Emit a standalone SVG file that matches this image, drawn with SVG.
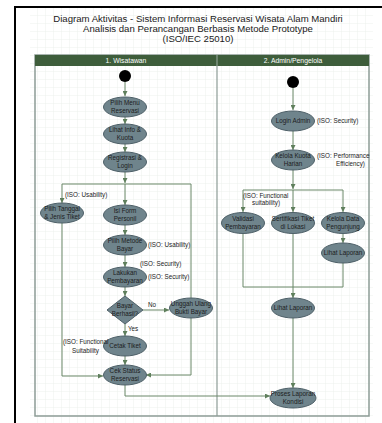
<svg xmlns="http://www.w3.org/2000/svg" width="382" height="423" viewBox="0 0 382 423">
<defs>
<pattern id="grid" width="8" height="8" patternUnits="userSpaceOnUse" x="30" y="8">
<path d="M8 0V8M0 8H8" fill="none" stroke="#e9ece9" stroke-width="0.8"/>
</pattern>
<marker id="ah" viewBox="0 0 6 6" refX="6" refY="3" markerWidth="5" markerHeight="5" orient="auto" markerUnits="userSpaceOnUse">
<path d="M0 0L6 3L0 6Z" fill="#5f7f5c"/>
</marker>
</defs>
<style>
.node{fill:#6f848c;stroke:#4e6068;stroke-width:1}
.nt{font-family:"Liberation Sans",Arial,sans-serif;font-size:6.3px;fill:#1c1c1c;text-anchor:middle}
.lb{font-family:"Liberation Sans",Arial,sans-serif;font-size:6.3px;fill:#1c1c1c}
.title{font-family:"Liberation Sans",Arial,sans-serif;font-size:9.6px;fill:#1a1a1a;text-anchor:middle}
.hd{font-family:"Liberation Sans",Arial,sans-serif;font-size:6.8px;fill:#ffffff;text-anchor:middle}
.c{fill:none;stroke:#6a8868;stroke-width:1}
.ca{fill:none;stroke:#6a8868;stroke-width:1;marker-end:url(#ah)}
</style>
<rect width="382" height="423" fill="#ffffff"/>
<rect x="30" y="8" width="343" height="415" fill="url(#grid)"/>
<line x1="15" y1="7" x2="15" y2="423" stroke="#000" stroke-width="2"/>
<line x1="14" y1="7" x2="382" y2="7" stroke="#000" stroke-width="2"/>

<g id="title">
<text class="title" x="198" y="22">Diagram Aktivitas - Sistem Informasi Reservasi Wisata Alam Mandiri</text>
<text class="title" x="198" y="32">Analisis dan Perancangan Berbasis Metode Prototype</text>
<text class="title" x="198" y="42">(ISO/IEC 25010)</text>
</g>

<g id="lanes">
<rect x="35" y="55" width="334" height="361" fill="none" stroke="#8d9c96" stroke-width="1.5"/>
<rect x="35" y="55" width="334" height="11" fill="#3e5d3b"/>
<line x1="217" y1="55" x2="217" y2="416" stroke="#8d9c96" stroke-width="1.2"/>
<line x1="217" y1="55" x2="217" y2="66" stroke="#6f8a6c" stroke-width="0.8"/>
<text class="hd" x="126" y="63">1. Wisatawan</text>
<text class="hd" x="293" y="63">2. Admin/Pengelola</text>
</g>

<g id="connectors">
<path class="ca" d="M125 82V96"/>
<path class="ca" d="M125 117V124"/>
<path class="ca" d="M125 144V152"/>
<path class="ca" d="M125 172V183"/>
<path class="c" d="M62 184H191"/>
<path class="ca" d="M62 184V203"/>
<path class="ca" d="M125 184V205"/>
<path class="ca" d="M191 184V375H146"/>
<path class="ca" d="M125 225V235"/>
<path class="ca" d="M125 255V267"/>
<path class="ca" d="M125 287V296"/>
<path class="ca" d="M143 310H169"/>
<path class="ca" d="M125 324V336"/>
<path class="ca" d="M125 356V365"/>
<path class="ca" d="M62 223V376H103"/>
<path class="ca" d="M125 385V396H270"/>
<path class="ca" d="M293 88V110"/>
<path class="ca" d="M293 131V150"/>
<path class="ca" d="M293 170V189"/>
<path class="c" d="M243 190H343"/>
<path class="ca" d="M243 190V212"/>
<path class="ca" d="M293 190V212"/>
<path class="ca" d="M343 190V212"/>
<path class="ca" d="M343 234V243"/>
<path class="c" d="M243 234V287H343V263"/>
<path class="c" d="M293 234V287"/>
<path class="ca" d="M293 287V298"/>
<path class="ca" d="M293 318V388"/>
</g>

<g id="start1"><circle cx="125" cy="76" r="6" fill="#000"/></g>
<g id="n_pilihmenu"><ellipse class="node" cx="125" cy="107" rx="21.5" ry="10"/><text class="nt" x="125" y="105">Pilih Menu</text><text class="nt" x="125" y="112.5">Reservasi</text></g>
<g id="n_lihatinfo"><ellipse class="node" cx="125" cy="134" rx="21.5" ry="10"/><text class="nt" x="125" y="132">Lihat Info &amp;</text><text class="nt" x="125" y="139.5">Kuota</text></g>
<g id="n_registrasi"><ellipse class="node" cx="125" cy="162" rx="21.5" ry="10"/><text class="nt" x="125" y="160">Registrasi &amp;</text><text class="nt" x="125" y="167.5">Login</text></g>
<g id="n_pilihtanggal"><ellipse class="node" cx="62" cy="213" rx="21.5" ry="10"/><text class="nt" x="62" y="211">Pilih Tanggal</text><text class="nt" x="62" y="218.5">&amp; Jenis Tiket</text></g>
<g id="n_isiform"><ellipse class="node" cx="125" cy="215" rx="21.5" ry="10"/><text class="nt" x="125" y="213">Isi Form</text><text class="nt" x="125" y="220.5">Personil</text></g>
<g id="n_pilihmetode"><ellipse class="node" cx="125" cy="245" rx="21.5" ry="10"/><text class="nt" x="125" y="243">Pilih Metode</text><text class="nt" x="125" y="250.5">Bayar</text></g>
<g id="n_lakukan"><ellipse class="node" cx="125" cy="277" rx="21.5" ry="10"/><text class="nt" x="125" y="275">Lakukan</text><text class="nt" x="125" y="282.5">Pembayaran</text></g>
<g id="n_bayar"><path class="node" d="M125 296L143 310L125 324L107 310Z"/><text class="nt" x="125" y="308">Bayar</text><text class="nt" x="125" y="315.5">Berhasil?</text></g>
<g id="n_unggah"><ellipse class="node" cx="191" cy="308" rx="21.5" ry="10"/><text class="nt" x="191" y="306">Unggah Ulang</text><text class="nt" x="191" y="313.5">Bukti Bayar</text></g>
<g id="n_cetak"><ellipse class="node" cx="125" cy="346" rx="21.5" ry="10"/><text class="nt" x="125" y="348.2">Cetak Tiket</text></g>
<g id="n_cekstatus"><ellipse class="node" cx="125" cy="375" rx="21.5" ry="10"/><text class="nt" x="125" y="373">Cek Status</text><text class="nt" x="125" y="380.5">Reservasi</text></g>

<g id="start2"><circle cx="293" cy="82" r="6" fill="#000"/></g>
<g id="n_login"><ellipse class="node" cx="293" cy="121" rx="21.5" ry="10"/><text class="nt" x="293" y="123.2">Login Admin</text></g>
<g id="n_kelolakuota"><ellipse class="node" cx="293" cy="160" rx="21.5" ry="10"/><text class="nt" x="293" y="158">Kelola Kuota</text><text class="nt" x="293" y="165.5">Harian</text></g>
<g id="n_validasi"><ellipse class="node" cx="243" cy="223" rx="21.5" ry="10.5"/><text class="nt" x="243" y="221">Validasi</text><text class="nt" x="243" y="228.5">Pembayaran</text></g>
<g id="n_verifikasi"><ellipse class="node" cx="293" cy="223" rx="21.5" ry="10.5"/><text class="nt" x="293" y="221">Sertifikasi Tiket</text><text class="nt" x="293" y="228.5">di Lokasi</text></g>
<g id="n_keloladata"><ellipse class="node" cx="343" cy="223" rx="21.5" ry="10.5"/><text class="nt" x="343" y="221">Kelola Data</text><text class="nt" x="343" y="228.5">Pengunjung</text></g>
<g id="n_lihatlaporan1"><ellipse class="node" cx="343" cy="253" rx="21.5" ry="10"/><text class="nt" x="343" y="255.2">Lihat Laporan</text></g>
<g id="n_lihatlaporan2"><ellipse class="node" cx="293" cy="308" rx="21.5" ry="10"/><text class="nt" x="293" y="310.2">Lihat Laporan</text></g>
<g id="n_proses"><ellipse class="node" cx="293" cy="398" rx="23" ry="10"/><text class="nt" x="293" y="396">Proses Laporan</text><text class="nt" x="293" y="403.5">Kondisi</text></g>

<g id="labels">
<text class="lb" x="65" y="197">(ISO: Usability)</text>
<text class="lb" x="148" y="246.5">(ISO: Usability)</text>
<text class="lb" x="140" y="266">(ISO: Security)</text>
<text class="lb" x="148" y="278.5">(ISO: Security)</text>
<text class="lb" x="148" y="307">No</text>
<text class="lb" x="128" y="331">Yes</text>
<text class="lb" x="63" y="344">(ISO: Functional</text>
<text class="lb" x="72" y="353">Suitability</text>
<text class="lb" x="317" y="123">(ISO: Security)</text>
<text class="lb" x="317" y="158">(ISO: Performance</text>
<text class="lb" x="336" y="166">Efficiency)</text>
<text class="lb" x="243" y="198">(ISO: Functional</text>
<text class="lb" x="252" y="205">suitability)</text>
</g>
</svg>
